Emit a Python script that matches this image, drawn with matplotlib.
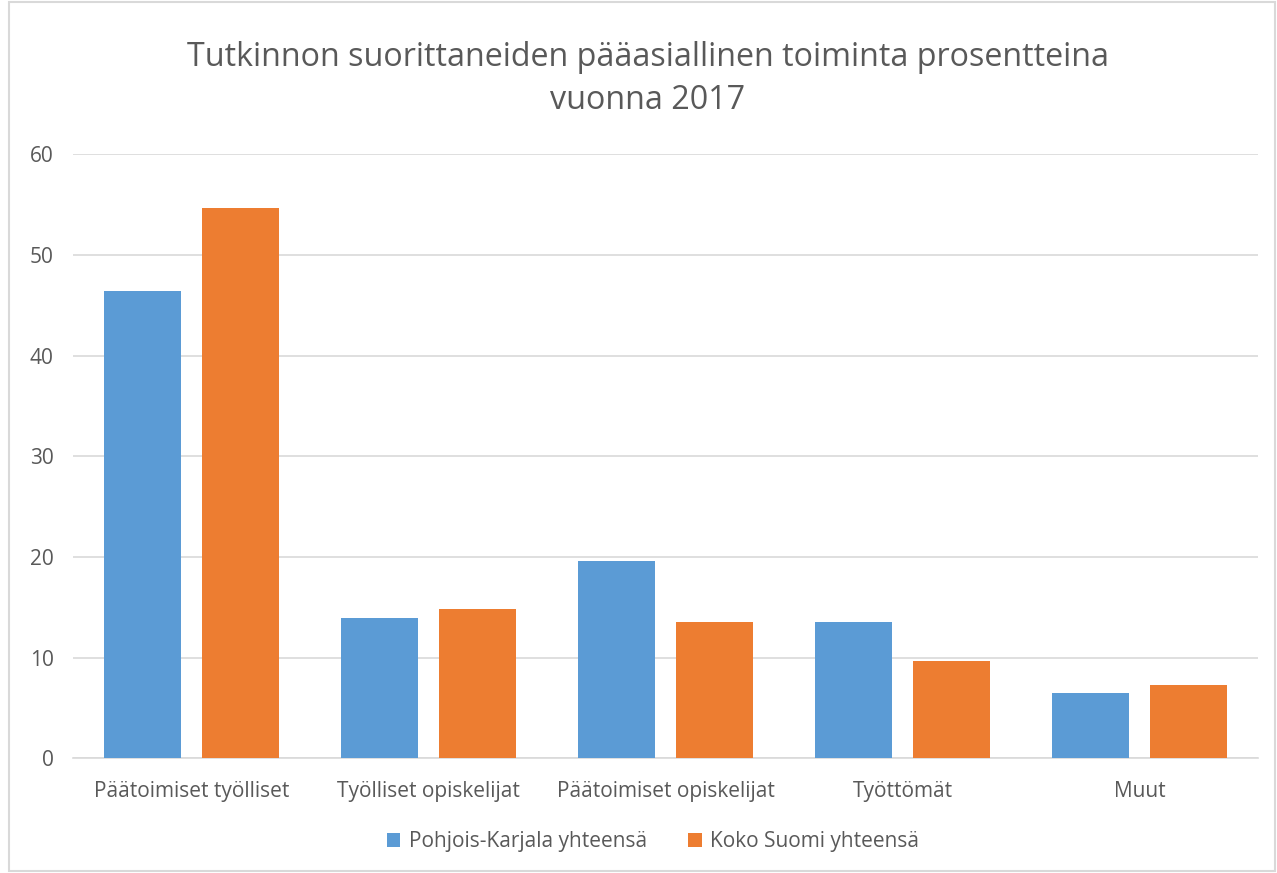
import matplotlib
matplotlib.use("Agg")
import matplotlib.pyplot as plt
import numpy as np
from matplotlib.patches import Rectangle

categories = ["Päätoimiset työlliset", "Työlliset opiskelijat", "Päätoimiset opiskelijat", "Työttömät", "Muut"]
pohjois_karjala = [46.4, 13.9, 19.6, 13.5, 6.5]
koko_suomi = [54.7, 14.8, 13.5, 9.7, 7.3]
series_names = ["Pohjois-Karjala yhteensä", "Koko Suomi yhteensä"]
yticks = [0, 10, 20, 30, 40, 50, 60]
title = "Tutkinnon suorittaneiden pääasiallinen toiminta prosentteina\nvuonna 2017"

plt.rcParams['font.family'] = ['Open Sans', 'DejaVu Sans']

W, H = 1277, 873
fig = plt.figure(figsize=(W/100, H/100), dpi=100)
fig.patch.set_facecolor("white")
# chart border
fig.patches.append(Rectangle((9/W, 2/H), (W-11)/W, (H-4)/H, transform=fig.transFigure,
                             fill=False, edgecolor="#d9d9d9", linewidth=1.5))

left, right = 73, 1258
top, bottom = 154.3, 758.3
ax = fig.add_axes([left/W, 1-bottom/H, (right-left)/W, (bottom-top)/H])

x = np.arange(len(categories))
bw = 0.325
off = 0.207
blue = "#5b9bd5"
orange = "#ed7d31"
ax.bar(x - off, pohjois_karjala, bw, color=blue, label=series_names[0], zorder=3)
ax.bar(x + off, koko_suomi, bw, color=orange, label=series_names[1], zorder=3)

ax.set_xlim(-0.5, len(categories) - 0.5)
ax.set_ylim(0, 60)
ax.set_yticks(yticks)
ax.yaxis.grid(True, color="#d9d9d9", linewidth=1.2, zorder=0)
for s in ["top", "right", "left"]:
    ax.spines[s].set_visible(False)
ax.spines["bottom"].set_color("#d9d9d9")
ax.spines["bottom"].set_linewidth(1.2)
ax.tick_params(axis="y", length=0, pad=14, labelsize=15, labelcolor="#595959")
ax.tick_params(axis="x", length=0, pad=16, labelsize=15, labelcolor="#595959")
ax.set_xticks(x)
ax.set_xticklabels(categories)
ax.set_facecolor("white")

fig.text(648/W, 1-79/H, title, ha="center", va="center", fontsize=23.2, color="#595959", linespacing=1.4)

leg = fig.legend(loc="center", bbox_to_anchor=(653/W, 1-842/H), ncol=2, frameon=False,
                 fontsize=15, handlelength=0.65, handleheight=0.65, handletextpad=0.4,
                 columnspacing=2.0, labelcolor="#595959")

fig.savefig("out.png", dpi=100, facecolor="white")
